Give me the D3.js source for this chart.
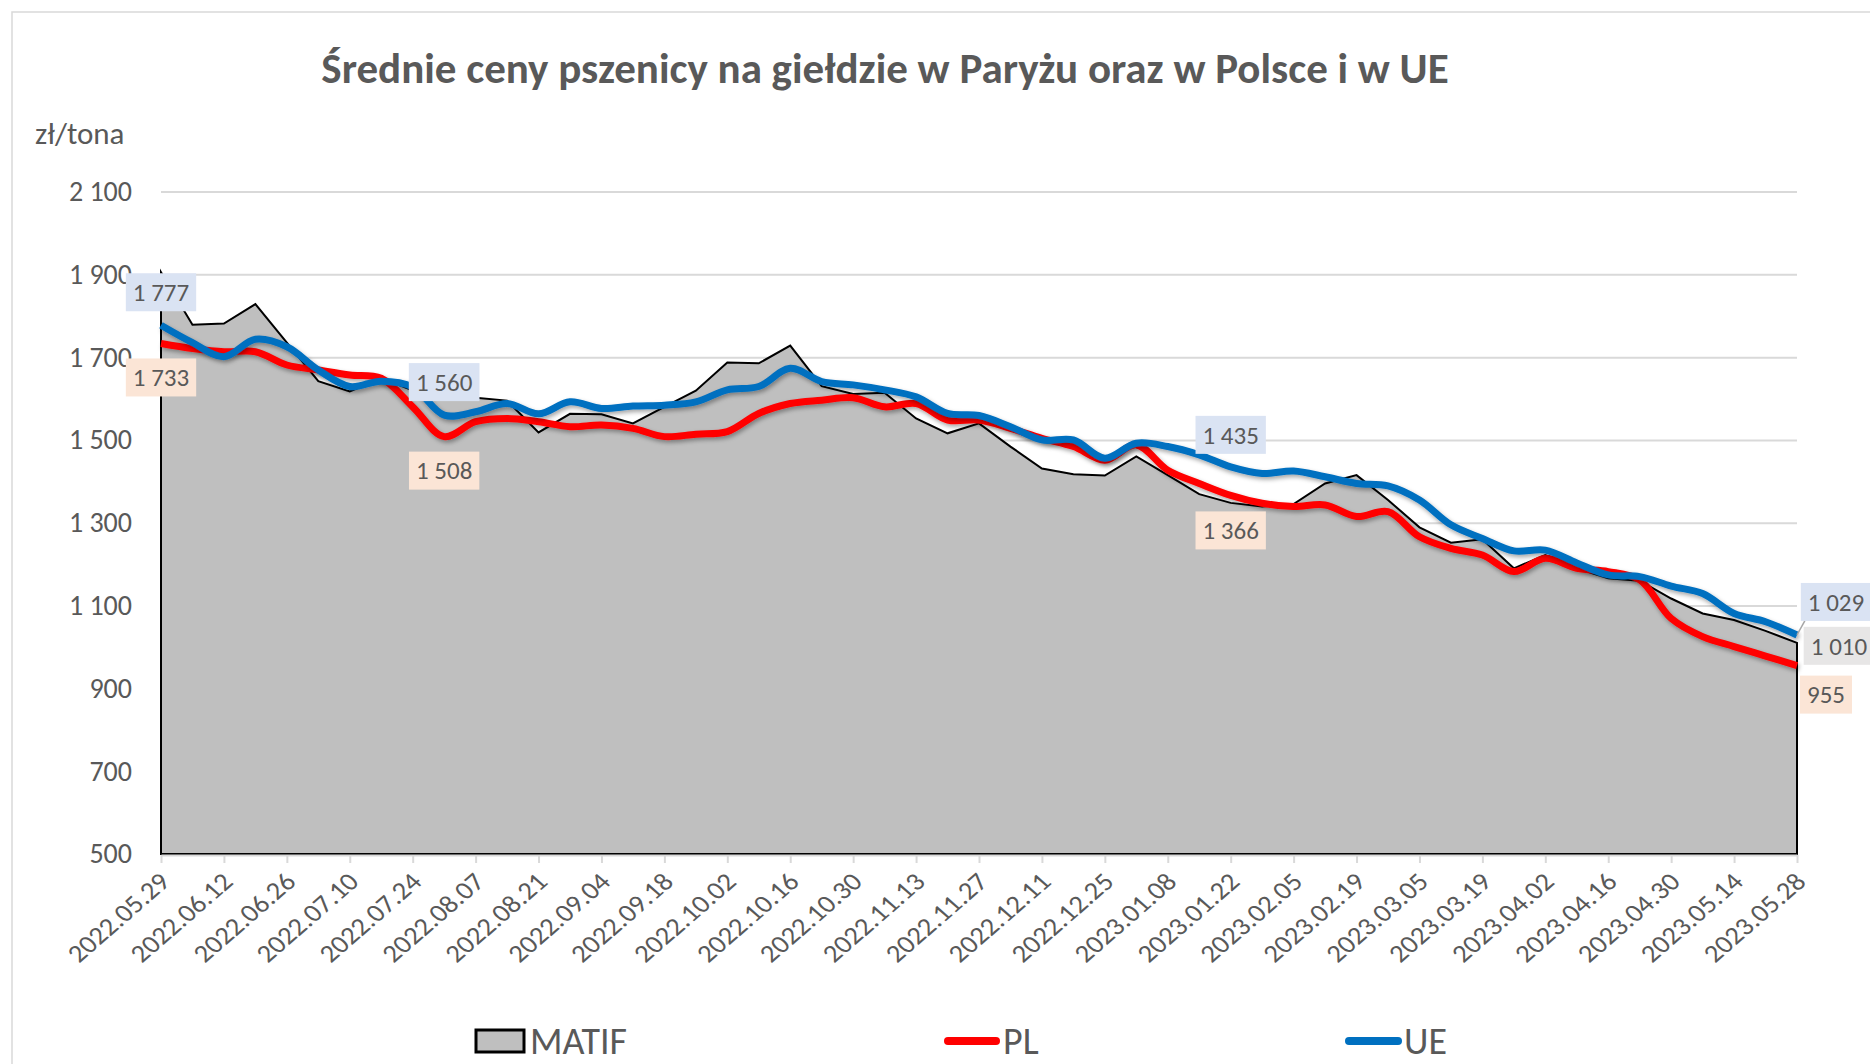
<!DOCTYPE html>
<html>
<head>
<meta charset="utf-8">
<script src="https://cdn.jsdelivr.net/npm/d3@7/dist/d3.min.js"></script>
<style>
  body { margin: 0; background: #fff; }
  svg text { font-family: Carlito, Calibri, Lato, sans-serif; fill: #595959; }
</style>
</head>
<body>
<svg id="chart" width="1870" height="1064"></svg>
<script>
// Weekly quotation dates (categories)
const weeks = [
    "2022.05.29", "2022.06.05", "2022.06.12", "2022.06.19", "2022.06.26", "2022.07.03",
    "2022.07.10", "2022.07.17", "2022.07.24", "2022.07.31", "2022.08.07", "2022.08.14",
    "2022.08.21", "2022.08.28", "2022.09.04", "2022.09.11", "2022.09.18", "2022.09.25",
    "2022.10.02", "2022.10.09", "2022.10.16", "2022.10.23", "2022.10.30", "2022.11.06",
    "2022.11.13", "2022.11.20", "2022.11.27", "2022.12.04", "2022.12.11", "2022.12.18",
    "2022.12.25", "2023.01.01", "2023.01.08", "2023.01.15", "2023.01.22", "2023.01.29",
    "2023.02.05", "2023.02.12", "2023.02.19", "2023.02.26", "2023.03.05", "2023.03.12",
    "2023.03.19", "2023.03.26", "2023.04.02", "2023.04.09", "2023.04.16", "2023.04.23",
    "2023.04.30", "2023.05.07", "2023.05.14", "2023.05.21", "2023.05.28"
];

// Prices in zł/tona
const matif = [
    1905, 1778, 1781, 1828, 1735, 1642, 1617, 1649, 1620, 1605, 1602, 1595, 1518, 1563,
    1562, 1540, 1580, 1619, 1687, 1685, 1728, 1630, 1611, 1614, 1552, 1516, 1540, 1484,
    1431, 1417, 1414, 1460, 1415, 1369, 1348, 1339, 1345, 1395, 1415, 1355, 1289, 1252,
    1260, 1190, 1222, 1190, 1166, 1160, 1117, 1081, 1065, 1039, 1010
];
const pl = [
    1733, 1721, 1713, 1713, 1681, 1669, 1657, 1649, 1580, 1508, 1544, 1552, 1544, 1532,
    1536, 1528, 1508, 1514, 1520, 1564, 1588, 1596, 1602, 1580, 1588, 1548, 1548, 1528,
    1504, 1484, 1451, 1488, 1427, 1395, 1366, 1347, 1339, 1343, 1315, 1327, 1266, 1238,
    1222, 1182, 1214, 1190, 1182, 1162, 1069, 1025, 1001, 978, 955
];
const ue = [
    1777, 1735, 1701, 1743, 1725, 1669, 1629, 1642, 1628, 1560, 1568, 1588, 1563, 1592,
    1576, 1582, 1584, 1592, 1621, 1629, 1673, 1641, 1633, 1621, 1604, 1564, 1559, 1532,
    1500, 1500, 1456, 1492, 1484, 1464, 1435, 1419, 1425, 1411, 1395, 1389, 1355, 1295,
    1262, 1232, 1234, 1203, 1174, 1170, 1147, 1129, 1081, 1061, 1029
];

const yTicks = [500, 700, 900, 1100, 1300, 1500, 1700, 1900, 2100];
const xTickLabels = weeks.filter((d, i) => i % 2 === 0);

const seriesValues = { matif, pl, ue };
const seriesFill = { matif: "#E7E6E6", pl: "#FBE5D6", ue: "#DAE3F3" };

// Which points carry a value label, and where the label sits
const dataLabels = [
    { series: "ue", i: 0, dx: 0, dy: -33 },
    { series: "pl", i: 0, dx: 0, dy: 34 },
    { series: "ue", i: 9, dx: 0, dy: -33 },
    { series: "pl", i: 9, dx: 0, dy: 34 },
    { series: "ue", i: 34, dx: 0, dy: -32 },
    { series: "pl", i: 34, dx: 0, dy: 35 },
    { series: "ue", i: 52, dx: 39, dy: -33, leader: true },
    { series: "matif", i: 52, dx: 42, dy: 3 },
    { series: "pl", i: 52, dx: 29, dy: 29 }
];

const svg = d3.select("#chart");
const plotLeft = 161, plotRight = 1797, plotTop = 191.5, plotBottom = 854;

const locale = d3.formatLocale({ decimal: ",", thousands: " ", grouping: [3], currency: ["", " zł"] });
const fmt = locale.format(",d");

const x = d3.scalePoint().domain(weeks).range([plotLeft, plotRight]);
const y = d3.scaleLinear().domain([500, 2100]).range([plotBottom, plotTop]);

// Drop shadow for the thick lines
const defs = svg.append("defs");
defs.append("filter")
    .attr("id", "shadow")
    .attr("x", "-5%").attr("y", "-10%")
    .attr("width", "110%").attr("height", "130%")
    .append("feDropShadow")
    .attr("dx", 1.5).attr("dy", 2.5)
    .attr("stdDeviation", 2)
    .attr("flood-color", "#000")
    .attr("flood-opacity", 0.35);

// Chart border
svg.append("rect")
    .attr("x", 12).attr("y", 12)
    .attr("width", 1900).attr("height", 1100)
    .attr("fill", "none")
    .attr("stroke", "#D9D9D9")
    .attr("stroke-width", 1.5);

// Title
svg.append("text")
    .attr("x", 885).attr("y", 83)
    .attr("text-anchor", "middle")
    .style("font-size", "43px")
    .style("font-weight", "bold")
    .text("Średnie ceny pszenicy na giełdzie w Paryżu oraz w Polsce i w UE");

// Unit label
svg.append("text")
    .attr("x", 35).attr("y", 144)
    .style("font-size", "31px")
    .text("zł/tona");

// Y axis with gridlines
const yAxis = svg.append("g")
    .attr("transform", `translate(${plotLeft},0)`)
    .call(d3.axisLeft(y)
        .tickValues(yTicks)
        .tickSize(-(plotRight - plotLeft))
        .tickPadding(29)
        .tickFormat(fmt));
yAxis.select(".domain").remove();
yAxis.selectAll(".tick line")
    .attr("stroke", "#D9D9D9")
    .attr("stroke-width", 2)
    .filter(d => d === 500).remove();
yAxis.selectAll(".tick text")
    .style("font-size", "28px")
    .attr("fill", "#595959");

// MATIF area
const area = d3.area()
    .x((d, i) => x(weeks[i]))
    .y0(y(500))
    .y1(d => y(d));
svg.append("path")
    .datum(matif)
    .attr("d", area)
    .attr("fill", "#BFBFBF")
    .attr("stroke", "#000")
    .attr("stroke-width", 2)
    .attr("stroke-linejoin", "miter");

// X axis
const xAxis = svg.append("g")
    .attr("transform", `translate(0,${plotBottom + 1})`)
    .call(d3.axisBottom(x)
        .tickValues(xTickLabels)
        .tickSize(8)
        .tickSizeOuter(0)
        .tickFormat(d => d));
xAxis.select(".domain").attr("stroke", "#D9D9D9").attr("stroke-width", 2);
xAxis.selectAll(".tick line").attr("stroke", "#D9D9D9").attr("stroke-width", 2);
xAxis.selectAll(".tick text")
    .attr("fill", "#595959")
    .style("font-size", "25px")
    .attr("text-anchor", "end")
    .attr("x", 0).attr("y", 0).attr("dy", "0.35em")
    .attr("transform", "translate(3,22) scale(1.15,1) rotate(-45)");

// Smoothed lines
const line = d3.line()
    .x((d, i) => x(weeks[i]))
    .y(d => y(d))
    .curve(d3.curveCatmullRom.alpha(0.5));

svg.append("path")
    .datum(pl)
    .attr("d", line)
    .attr("fill", "none")
    .attr("stroke", "#FF0000")
    .attr("stroke-width", 7)
    .attr("stroke-linejoin", "round")
    .attr("filter", "url(#shadow)");

svg.append("path")
    .datum(ue)
    .attr("d", line)
    .attr("fill", "none")
    .attr("stroke", "#0070C0")
    .attr("stroke-width", 7)
    .attr("stroke-linejoin", "round")
    .attr("filter", "url(#shadow)");

// Data labels
const labelGroup = svg.append("g");
dataLabels.forEach(l => {
    const v = seriesValues[l.series][l.i];
    const px = x(weeks[l.i]);
    const py = y(v);
    const cx = px + l.dx, cy = py + l.dy;
    const g = labelGroup.append("g");
    const box = g.append("rect").attr("fill", seriesFill[l.series]);
    const t = g.append("text")
        .attr("x", cx).attr("y", cy)
        .attr("text-anchor", "middle")
        .attr("dy", "0.35em")
        .style("font-size", "25px")
        .text(fmt(v));
    const bb = t.node().getBBox();
    const w = bb.width + 14, h = 38;
    box.attr("x", cx - w / 2).attr("y", cy - h / 2).attr("width", w).attr("height", h);
    if (l.leader) {
        g.insert("line", "rect")
            .attr("x1", px).attr("y1", py)
            .attr("x2", cx - w / 2 + 4).attr("y2", cy + h / 2)
            .attr("stroke", "#A6A6A6")
            .attr("stroke-width", 1.5);
    }
});

// Legend
const legend = svg.append("g");
legend.append("rect")
    .attr("x", 476).attr("y", 1030)
    .attr("width", 48).attr("height", 22)
    .attr("fill", "#BFBFBF")
    .attr("stroke", "#000")
    .attr("stroke-width", 3);
legend.append("text")
    .attr("x", 530).attr("y", 1041).attr("dy", "0.35em")
    .style("font-size", "38px")
    .text("MATIF");

legend.append("line")
    .attr("x1", 948).attr("x2", 996)
    .attr("y1", 1041).attr("y2", 1041)
    .attr("stroke", "#FF0000")
    .attr("stroke-width", 8)
    .attr("stroke-linecap", "round");
legend.append("text")
    .attr("x", 1003).attr("y", 1041).attr("dy", "0.35em")
    .style("font-size", "38px")
    .text("PL");

legend.append("line")
    .attr("x1", 1349).attr("x2", 1398)
    .attr("y1", 1041).attr("y2", 1041)
    .attr("stroke", "#0070C0")
    .attr("stroke-width", 8)
    .attr("stroke-linecap", "round");
legend.append("text")
    .attr("x", 1404).attr("y", 1041).attr("dy", "0.35em")
    .style("font-size", "38px")
    .text("UE");
</script>
</body>
</html>
